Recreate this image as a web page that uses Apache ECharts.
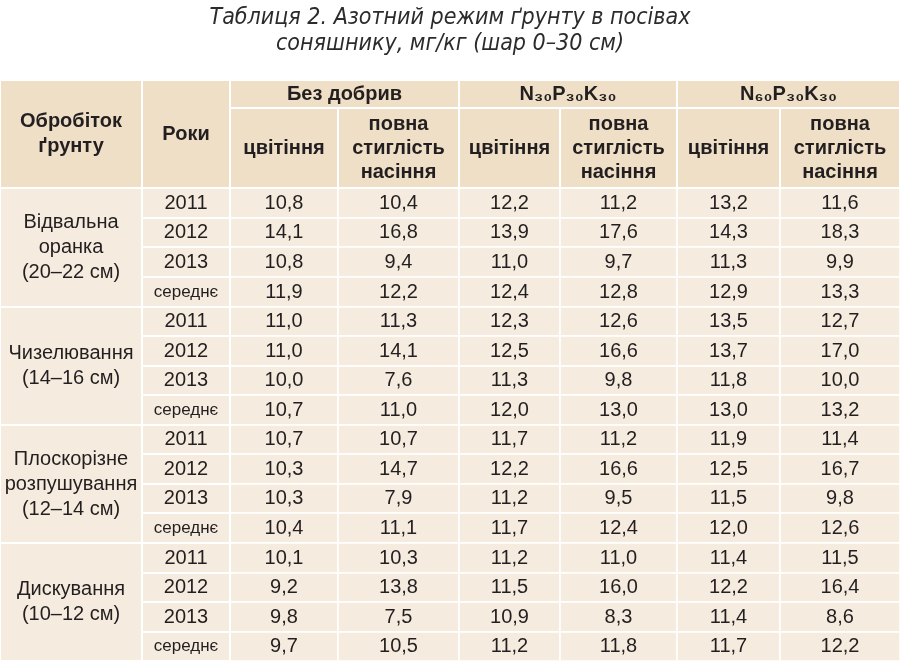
<!DOCTYPE html>
<html>
<head>
<meta charset="utf-8">
<script src="https://cdn.jsdelivr.net/npm/echarts@6/dist/echarts.min.js"></script>
<style>
  html, body { margin: 0; padding: 0; background: #fff; }
  #chart { width: 900px; height: 667px; }
</style>
</head>
<body>
<div id="chart"></div>
<script>
// таблиця: способи обробітку, роки, варіанти удобрення, фази
const tillage = [
  'Відвальна\nоранка\n(20–22 см)',
  'Чизелювання\n(14–16 см)',
  'Плоскорізне\nрозпушування\n(12–14 см)',
  'Дискування\n(10–12 см)'
];
const years = ['2011', '2012', '2013', 'середнє'];
const fertilizers = ['Без добрив', 'N30P30K30', 'N60P30K30'];
const phases = ['цвітіння', 'повна\nстиглість\nнасіння'];

// значення по стовпцях, 16 рядків (4 обробітки x 4 роки)
const noFertFlowering = [10.8, 14.1, 10.8, 11.9, 11.0, 11.0, 10.0, 10.7, 10.7, 10.3, 10.3, 10.4, 10.1, 9.2, 9.8, 9.7];
const noFertRipeness = [10.4, 16.8, 9.4, 12.2, 11.3, 14.1, 7.6, 11.0, 10.7, 14.7, 7.9, 11.1, 10.3, 13.8, 7.5, 10.5];
const n30Flowering = [12.2, 13.9, 11.0, 12.4, 12.3, 12.5, 11.3, 12.0, 11.7, 12.2, 11.2, 11.7, 11.2, 11.5, 10.9, 11.2];
const n30Ripeness = [11.2, 17.6, 9.7, 12.8, 12.6, 16.6, 9.8, 13.0, 11.2, 16.6, 9.5, 12.4, 11.0, 16.0, 8.3, 11.8];
const n60Flowering = [13.2, 14.3, 11.3, 12.9, 13.5, 13.7, 11.8, 13.0, 11.9, 12.5, 11.5, 12.0, 11.4, 12.2, 11.4, 11.7];
const n60Ripeness = [11.6, 18.3, 9.9, 13.3, 12.7, 17.0, 10.0, 13.2, 11.4, 16.7, 9.8, 12.6, 11.5, 16.4, 8.6, 12.2];

const columns = [noFertFlowering, noFertRipeness, n30Flowering, n30Ripeness, n60Flowering, n60Ripeness];

// ширини стовпців (px)
const leafWidths = [108, 121, 101, 117, 103, 120];

const FONT = '"Liberation Sans", Arial, sans-serif';
const HEAD_BG = '#efdfc6';
const BODY_BG = '#f5ecdf';
const LINE = '#ffffff';
const TXT = '#231f20';
const ZW = '\u200b';
const SUB = '₀₁₂₃₄₅₆₇₈₉';

// N30P30K30 -> N₃₀P₃₀K₃₀
function subName(s) {
  return s.replace(/\d/g, d => SUB[+d]);
}
function fmt(v) {
  return v.toFixed(1).replace('.', ',');
}
// однакові підписи у різних групах робимо унікальними невидимим суфіксом
function uniq(s, k) {
  return s + ZW.repeat(k);
}
function strip(p) {
  const v = (p && typeof p === 'object') ? (p.value != null ? p.value : p.name) : p;
  return String(v).replace(/\u200b/g, '');
}

const xData = fertilizers.map((f, i) => ({
  value: subName(f),
  children: phases.map((p, j) => ({ value: uniq(p, i), size: leafWidths[i * 2 + j] }))
}));

const yData = tillage.map((t, i) => ({
  value: t,
  children: years.map((y, j) => (j === years.length - 1
    ? { value: uniq(y, i), label: { fontSize: 17 } }
    : { value: uniq(y, i) }))
}));

const bodyData = [];
columns.forEach((col, xi) => {
  col.forEach((v, yi) => {
    bodyData.push({ coord: [xi, yi], value: fmt(v) });
  });
});

const chart = echarts.init(document.getElementById('chart'));
chart.setOption({
  backgroundColor: '#fff',
  title: {
    text: 'Таблиця 2. Азотний режим ґрунту в посівах\nсоняшнику, мг/кг (шар 0–30 см)',
    left: 'center',
    top: 0,
    textStyle: {
      fontFamily: '"DejaVu Sans Condensed", sans-serif',
      fontStyle: 'italic',
      fontWeight: 'normal',
      fontSize: 23,
      lineHeight: 26,
      color: '#2b2b2b'
    }
  },
  matrix: {
    left: 0,
    top: 80,
    right: 0,
    bottom: 6,
    backgroundStyle: { color: BODY_BG, borderWidth: 0 },
    x: {
      data: xData,
      levels: [{ levelSize: 28 }, { levelSize: 80 }],
      itemStyle: { color: HEAD_BG, borderColor: LINE, borderWidth: 2 },
      dividerLineStyle: { color: LINE, width: 2 },
      label: {
        formatter: strip,
        overflow: 'none',
        fontFamily: FONT,
        fontSize: 20,
        fontWeight: 'bold',
        color: TXT,
        lineHeight: 24
      }
    },
    y: {
      data: yData,
      levels: [{ levelSize: 142 }, { levelSize: 88 }],
      itemStyle: { color: BODY_BG, borderColor: LINE, borderWidth: 2 },
      dividerLineStyle: { color: LINE, width: 2 },
      label: {
        formatter: strip,
        overflow: 'none',
        fontFamily: FONT,
        fontSize: 20,
        color: TXT,
        lineHeight: 25
      }
    },
    corner: {
      data: [
        { coord: [-2, [-2, -1]], value: 'Обробіток\nґрунту', mergeCells: true },
        { coord: [-1, [-2, -1]], value: 'Роки', mergeCells: true }
      ],
      itemStyle: { color: HEAD_BG, borderColor: LINE, borderWidth: 2 },
      label: {
        overflow: 'none',
        fontFamily: FONT,
        fontSize: 20,
        fontWeight: 'bold',
        color: TXT,
        lineHeight: 25
      }
    },
    body: {
      data: bodyData,
      itemStyle: { color: BODY_BG, borderColor: LINE, borderWidth: 1.5 },
      label: {
        overflow: 'none',
        fontFamily: FONT,
        fontSize: 20,
        color: TXT
      }
    }
  }
});
</script>
</body>
</html>
